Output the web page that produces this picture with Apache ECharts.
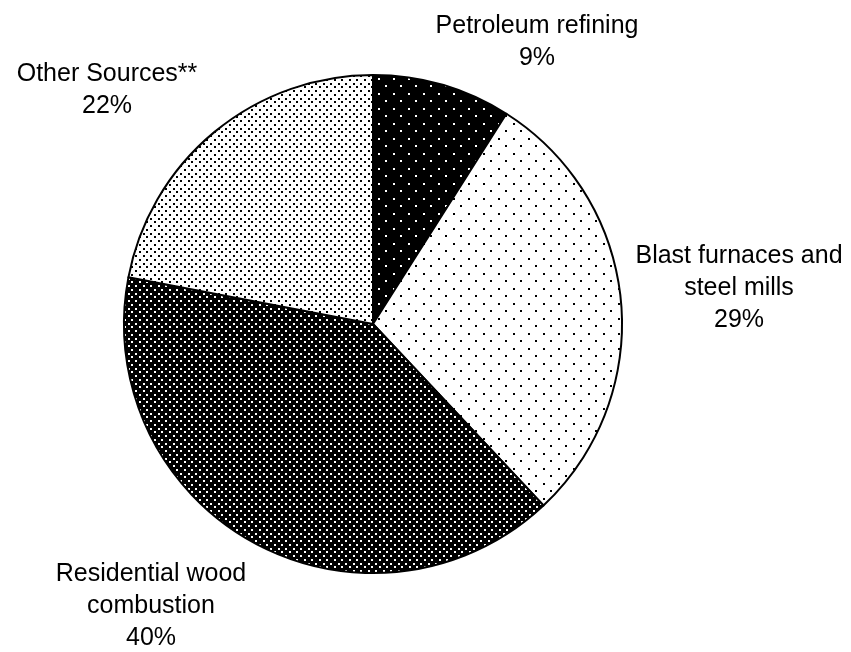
<!DOCTYPE html>
<html>
<head>
<meta charset="utf-8">
<script src="https://cdn.jsdelivr.net/npm/echarts@6/dist/echarts.min.js"></script>
<style>
html,body{margin:0;padding:0;background:#fff;}
#chart{width:851px;height:652px;}
</style>
</head>
<body>
<div id="chart"></div>
<script>
// ---- data ----
const categories = ['Petroleum refining', 'Blast furnaces and\nsteel mills', 'Residential wood\ncombustion', 'Other Sources**'];
const values = [9, 29, 40, 22];

// ---- layout (label anchor points, not data) ----
const labelCenters = [[537, 42], [739, 288], [151, 606], [107, 90]];

function makePattern(bg, fg, tile, dots, size) {
  const c = document.createElement('canvas');
  c.width = tile; c.height = tile;
  const ctx = c.getContext('2d');
  ctx.fillStyle = bg;
  ctx.fillRect(0, 0, tile, tile);
  ctx.fillStyle = fg;
  dots.forEach(function (d) { ctx.fillRect(d[0], d[1], size, size); });
  return { image: c, repeat: 'repeat' };
}
const sparseDots = [[3, 3], [10, 10]];
const denseDots = [];
const pos = [0, 4, 8, 11];
for (let r = 0; r < 4; r++) for (let cc = 0; cc < 4; cc++) if ((r + cc) % 2 === 0) denseDots.push([pos[cc], pos[r]]);

const fills = [
  makePattern('#000', '#fff', 15, sparseDots, 2),
  makePattern('#fff', '#000', 15, sparseDots, 2),
  makePattern('#000', '#fff', 15, denseDots, 2),
  makePattern('#fff', '#000', 15, denseDots, 2)
];

const chart = echarts.init(document.getElementById('chart'), null, { renderer: 'canvas' });
chart.setOption({
  backgroundColor: '#fff',
  animation: false,
  series: [{
    type: 'pie',
    center: [373, 324],
    radius: 249,
    startAngle: 90,
    clockwise: true,
    avoidLabelOverlap: false,
    silent: true,
    data: categories.map(function (name, i) {
      return { name: name, value: values[i], itemStyle: { color: fills[i] } };
    }),
    itemStyle: { borderColor: '#000', borderWidth: 2 },
    label: {
      show: true,
      position: 'outside',
      formatter: function (p) { return p.name + '\n' + p.value + '%'; },
      fontFamily: "'Liberation Sans', Arial, sans-serif",
      fontSize: 25,
      lineHeight: 32,
      color: '#000',
      align: 'center'
    },
    labelLine: { show: false },
    labelLayout: function (p) {
      const c = labelCenters[p.dataIndex];
      return { x: c[0], y: c[1], align: 'center', verticalAlign: 'middle' };
    }
  }]
});
</script>
</body>
</html>
